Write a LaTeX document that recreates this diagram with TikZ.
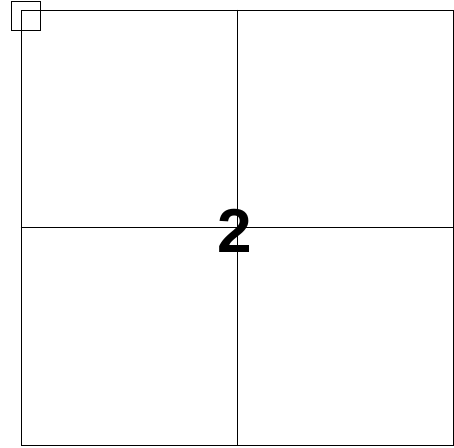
\documentclass[tikz,border=0pt]{standalone}
\usepackage{fontspec}
\setmainfont{Liberation Sans}
\usetikzlibrary{positioning}
\tikzset{
  frame/.style={draw, line width=0.5pt, inner sep=0pt, minimum width=216pt, minimum height=217.5pt},
  corner/.style={draw, line width=0.5pt, inner sep=0pt, minimum size=14.5pt},
  grid/.style={line width=0.5pt},
  num/.style={font=\fontsize{31}{31}\selectfont\bfseries, inner sep=0pt},
}
\begin{document}
\begin{tikzpicture}[x=0.5pt, y=-0.5pt]
  \useasboundingbox (0,0) rectangle (454,447);
  \node[frame] (sheet) at (237,227.5) {};
  \node[corner] (mark) at (25.5,15.5) {};
  \draw[grid] (sheet.north) -- (sheet.south);
  \draw[grid] (sheet.west) -- (sheet.east);
  \node[num] (page) at (235,231) {2};
\end{tikzpicture}
\end{document}
